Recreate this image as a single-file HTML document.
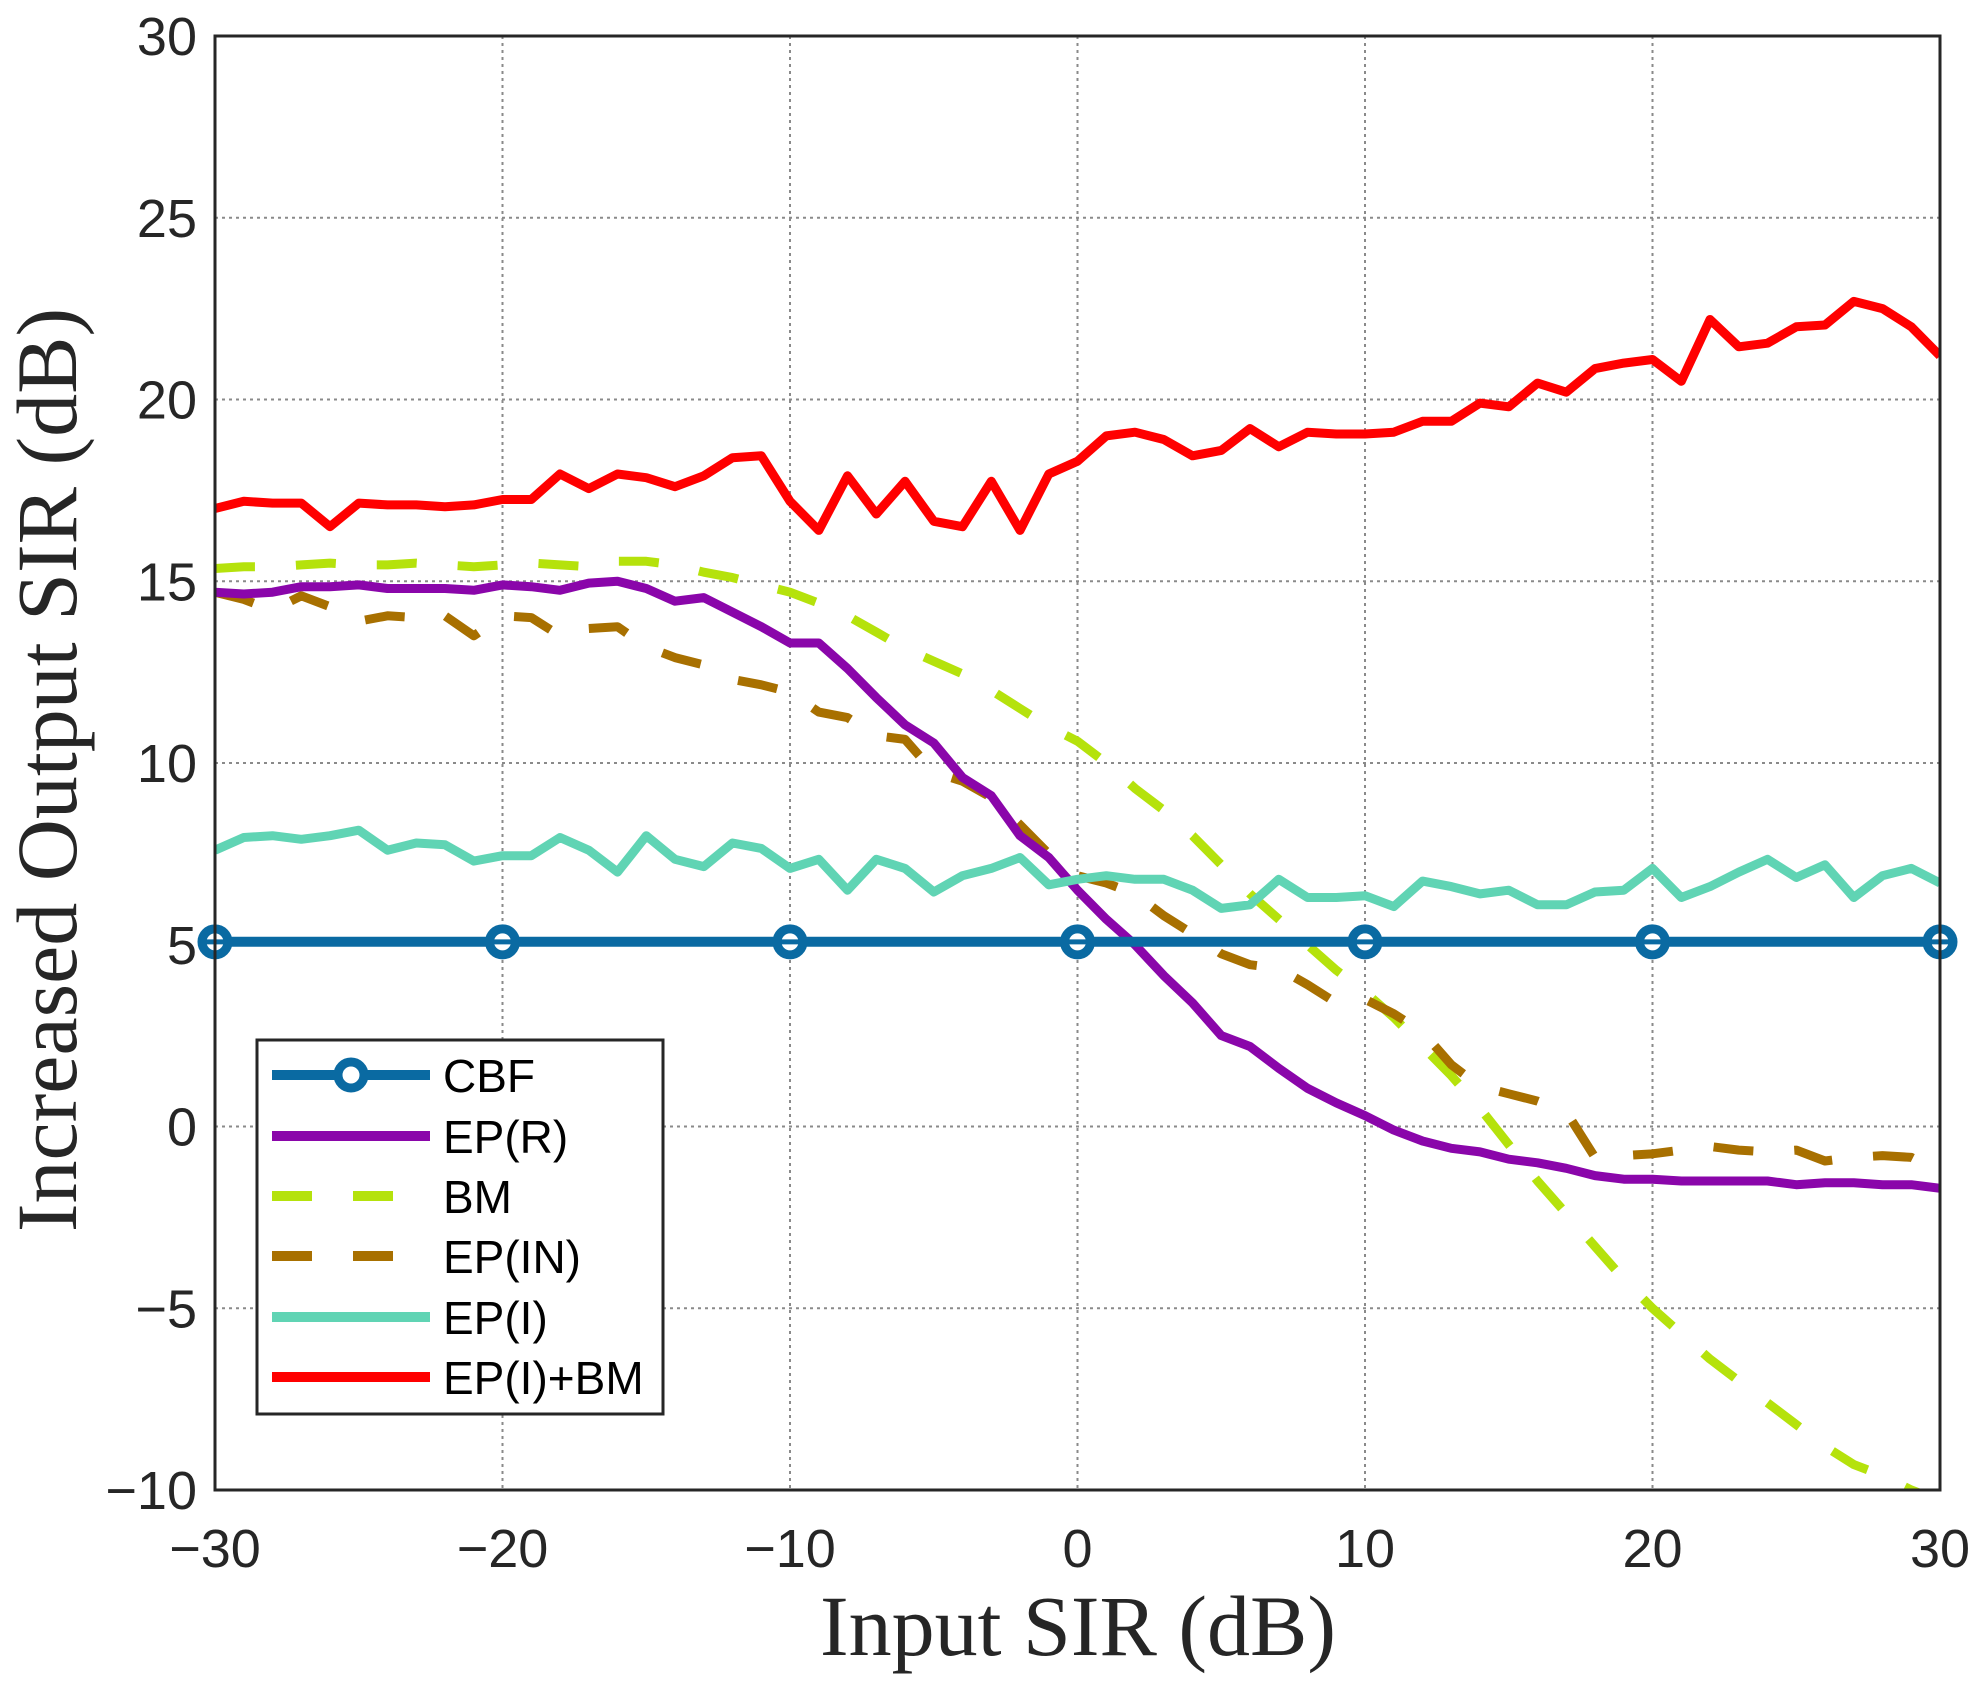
<!DOCTYPE html>
<html><head><meta charset="utf-8">
<style>
html,body{margin:0;padding:0;background:#fff;}
svg{display:block;}
</style></head>
<body>
<svg id="chart" width="1981" height="1685" viewBox="0 0 1981 1685" xmlns="http://www.w3.org/2000/svg">
<rect x="0" y="0" width="1981" height="1685" fill="#fff"/>
<g id="grid"></g>
<g id="ticks"></g>
<g id="series"></g>
<rect x="215" y="36" width="1725" height="1454" fill="none" stroke="#262626" stroke-width="3"/>
<text x="1078" y="1655" text-anchor="middle" font-family="'Liberation Serif', serif" font-size="86" fill="#262626">Input SIR (dB)</text>
<text transform="translate(76,770) rotate(-90)" text-anchor="middle" font-family="'Liberation Serif', serif" font-size="86" fill="#262626">Increased Output SIR (dB)</text>
<g id="legend">
<rect x="257" y="1040" width="406" height="374" fill="#fff" stroke="#262626" stroke-width="3"/>
</g>
</svg>
<script>
const xVals = [-30,-29,-28,-27,-26,-25,-24,-23,-22,-21,-20,-19,-18,-17,-16,-15,-14,-13,-12,-11,-10,-9,-8,-7,-6,-5,-4,-3,-2,-1,0,1,2,3,4,5,6,7,8,9,10,11,12,13,14,15,16,17,18,19,20,21,22,23,24,25,26,27,28,29,30];
const xTicks = [-30,-20,-10,0,10,20,30];
const yTicks = [-10,-5,0,5,10,15,20,25,30];
const xTickLabels = ['\u221230','\u221220','\u221210','0','10','20','30'];
const yTickLabels = ['\u221210','\u22125','0','5','10','15','20','25','30'];
const cbfX = [-30,30];
const cbfY = [5.08,5.08];
const cbfMarkerX = [-30,-20,-10,0,10,20,30];
const epR = [14.7,14.65,14.7,14.85,14.85,14.9,14.8,14.8,14.8,14.75,14.9,14.85,14.75,14.95,15.0,14.8,14.45,14.55,14.15,13.75,13.3,13.3,12.6,11.8,11.05,10.55,9.6,9.1,8.0,7.4,6.5,5.7,5.0,4.15,3.4,2.5,2.2,1.6,1.05,0.65,0.3,-0.1,-0.4,-0.6,-0.7,-0.9,-1.0,-1.15,-1.35,-1.45,-1.45,-1.5,-1.5,-1.5,-1.5,-1.6,-1.55,-1.55,-1.6,-1.6,-1.7];
const bm = [15.35,15.4,15.4,15.45,15.5,15.45,15.45,15.5,15.45,15.4,15.45,15.5,15.45,15.4,15.55,15.55,15.45,15.25,15.1,14.9,14.7,14.4,14.05,13.6,13.15,12.8,12.45,12.0,11.5,11.0,10.6,10.0,9.3,8.7,8.0,7.2,6.4,5.7,5.0,4.3,3.7,3.0,2.2,1.4,0.5,-0.5,-1.5,-2.4,-3.3,-4.2,-5.0,-5.7,-6.4,-7.0,-7.6,-8.2,-8.8,-9.3,-9.6,-10.0,-10.3];
const epIN = [14.7,14.5,14.2,14.6,14.3,13.9,14.05,14.0,14.05,13.5,14.05,14.0,13.5,13.7,13.75,13.2,12.9,12.7,12.3,12.15,11.95,11.4,11.25,10.75,10.65,9.75,9.5,9.05,8.3,7.5,6.9,6.7,6.4,5.8,5.3,4.75,4.45,4.35,3.9,3.4,3.5,3.1,2.6,1.7,1.1,0.9,0.7,0.4,-0.85,-0.8,-0.75,-0.65,-0.55,-0.65,-0.7,-0.65,-0.95,-0.85,-0.8,-0.85,-1.25];
const epI = [7.6,7.95,8.0,7.9,8.0,8.15,7.6,7.8,7.75,7.3,7.45,7.45,7.95,7.6,7.0,8.0,7.35,7.15,7.8,7.65,7.1,7.35,6.5,7.35,7.1,6.45,6.9,7.1,7.4,6.65,6.8,6.9,6.8,6.8,6.5,6.0,6.1,6.8,6.3,6.3,6.35,6.05,6.75,6.6,6.4,6.5,6.1,6.1,6.45,6.5,7.1,6.3,6.6,7.0,7.35,6.85,7.2,6.3,6.9,7.1,6.7];
const epIBM = [17.0,17.2,17.15,17.15,16.5,17.15,17.1,17.1,17.05,17.1,17.25,17.25,17.95,17.55,17.95,17.85,17.6,17.9,18.4,18.45,17.2,16.4,17.9,16.85,17.75,16.65,16.5,17.75,16.4,17.95,18.3,19.0,19.1,18.9,18.45,18.6,19.2,18.7,19.1,19.05,19.05,19.1,19.4,19.4,19.9,19.8,20.45,20.2,20.85,21.0,21.1,20.5,22.2,21.45,21.55,22.0,22.05,22.7,22.5,22.0,21.2];
const seriesNames = ['CBF','EP(R)','BM','EP(IN)','EP(I)','EP(I)+BM'];

const NS = 'http://www.w3.org/2000/svg';
const L = 215, R = 1940, T = 36, B = 1490;
function xs(v){ return L + (v + 30) / 60 * (R - L); }
function ys(v){ return B - (v + 10) / 40 * (B - T); }
function mk(tag, attrs, parent){
  const e = document.createElementNS(NS, tag);
  for (const k in attrs) e.setAttribute(k, attrs[k]);
  parent.appendChild(e);
  return e;
}
const grid = document.getElementById('grid');
const ticks = document.getElementById('ticks');
xTicks.forEach((v, i) => {
  const g = mk('line', {x1: xs(v), x2: xs(v), y1: T, y2: B, stroke: '#8a8a8a', 'stroke-width': 2, 'stroke-dasharray': '3,4'}, grid);
  
  
  const t = mk('text', {x: xs(v), y: 1567, 'text-anchor': 'middle', 'font-family': "'Liberation Sans', sans-serif", 'font-size': 54, fill: '#262626'}, ticks);
  t.textContent = xTickLabels[i];
  
  
});
yTicks.forEach((v, i) => {
  const g = mk('line', {x1: L, x2: R, y1: ys(v), y2: ys(v), stroke: '#8a8a8a', 'stroke-width': 2, 'stroke-dasharray': '3,4'}, grid);
  
  
  const t = mk('text', {x: 197, y: ys(v) + 19, 'text-anchor': 'end', 'font-family': "'Liberation Sans', sans-serif", 'font-size': 54, fill: '#262626'}, ticks);
  t.textContent = yTickLabels[i];
  
  
});

const series = document.getElementById('series');
const defs = mk('defs', {}, series);
const cp = mk('clipPath', {id: 'clip'}, defs);
mk('rect', {x: L, y: T, width: R - L, height: B - T}, cp);
function pts(xa, ya){ return xa.map((x, i) => xs(x).toFixed(1) + ',' + ys(ya[i]).toFixed(1)).join(' '); }
const styles = [
  {color: '#0a6aa2', dash: null},
  {color: '#8a06aa', dash: null},
  {color: '#b5e20c', dash: '40,41'},
  {color: '#a87000', dash: '40,41'},
  {color: '#60d4b4', dash: null},
  {color: '#ff0000', dash: null}
];
const dataList = [null, epR, bm, epIN, epI, epIBM];
const seriesKeys = ['cbf', 'ep-r', 'bm', 'ep-in', 'ep-i', 'ep-i-bm'];
const drawOrder = [2, 3, 1, 4, 5];
drawOrder.forEach(k => {
  const a = {points: pts(xVals, dataList[k]), fill: 'none', stroke: styles[k].color, 'stroke-width': 9, 'stroke-linejoin': 'round', 'clip-path': 'url(#clip)'};
  if (styles[k].dash) a['stroke-dasharray'] = styles[k].dash;
  const p = mk('polyline', a, series);
  
  
});
const cbfLine = mk('polyline', {points: pts(cbfX, cbfY), fill: 'none', stroke: styles[0].color, 'stroke-width': 10}, series);


cbfMarkerX.forEach(x => {
  const c = mk('circle', {cx: xs(x), cy: ys(cbfY[0]), r: 13, fill: '#fff', stroke: styles[0].color, 'stroke-width': 9}, series);
  
  
  const h = mk('line', {x1: xs(x) - 9, x2: xs(x) + 9, y1: ys(cbfY[0]), y2: ys(cbfY[0]), stroke: styles[0].color, 'stroke-width': 5}, series);
  
  
});

const legend = document.getElementById('legend');
const legendY = [1075, 1136, 1196, 1256, 1317, 1377];
seriesNames.forEach((n, i) => {
  const a = {x1: 272, x2: 430, y1: legendY[i], y2: legendY[i], stroke: styles[i].color, 'stroke-width': 10};
  if (styles[i].dash) a['stroke-dasharray'] = styles[i].dash;
  const ln = mk('line', a, legend);
  
  
  if (i === 0) {
    const c = mk('circle', {cx: 351, cy: legendY[i], r: 13, fill: '#fff', stroke: styles[0].color, 'stroke-width': 9}, legend);
    
    
  }
  const t = mk('text', {x: 443, y: legendY[i] + 17, 'font-family': "'Liberation Sans', sans-serif", 'font-size': 46, fill: '#000'}, legend);
  t.textContent = n;
  
  
});
</script>
</body></html>
